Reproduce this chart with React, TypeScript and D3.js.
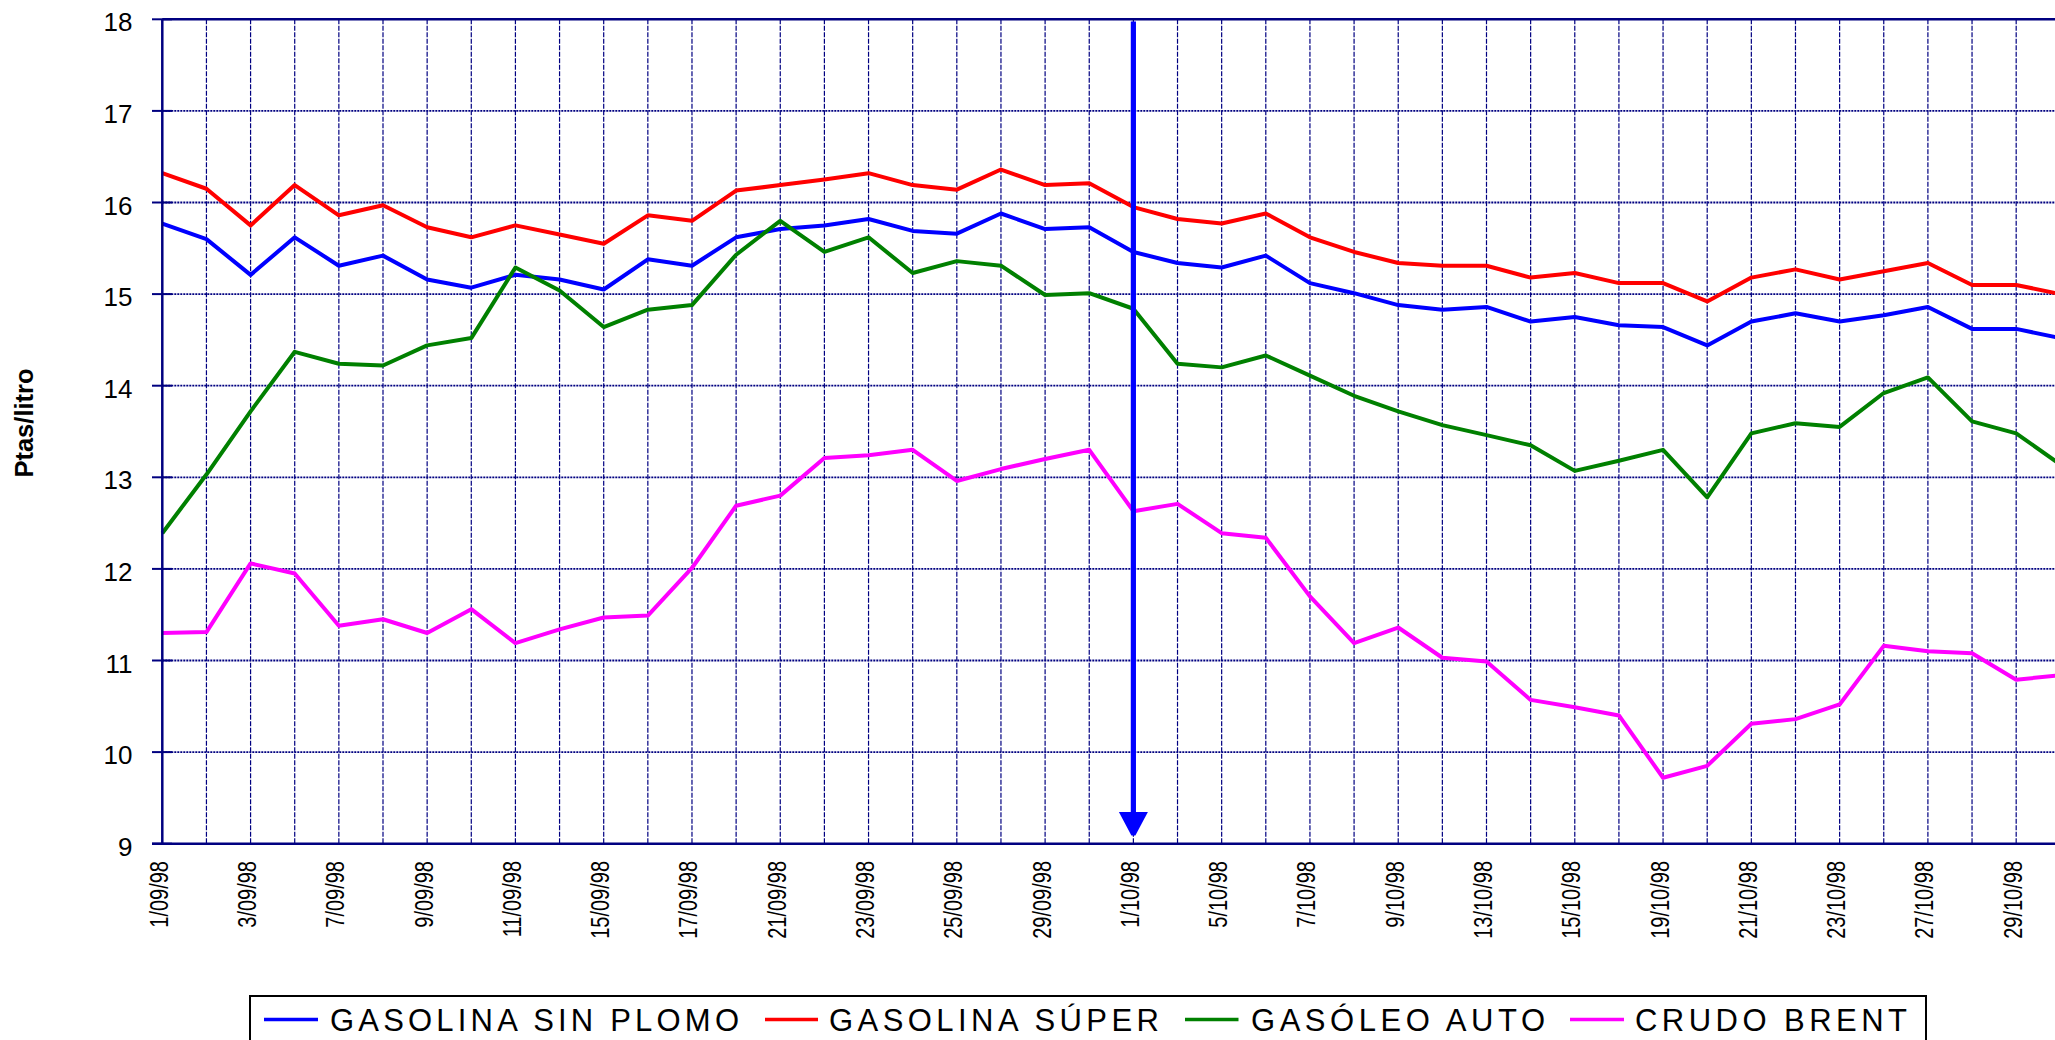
import React from "react";
import * as d3 from "d3";

const dates = [
  "1/09/98","2/09/98","3/09/98","4/09/98","7/09/98","8/09/98","9/09/98","10/09/98","11/09/98","14/09/98",
  "15/09/98","16/09/98","17/09/98","18/09/98","21/09/98","22/09/98","23/09/98","24/09/98","25/09/98","28/09/98",
  "29/09/98","30/09/98","1/10/98","2/10/98","5/10/98","6/10/98","7/10/98","8/10/98","9/10/98","12/10/98",
  "13/10/98","14/10/98","15/10/98","16/10/98","19/10/98","20/10/98","21/10/98","22/10/98","23/10/98","26/10/98",
  "27/10/98","28/10/98","29/10/98","30/10/98"
];

const sinPlomo = [
  15.77, 15.60, 15.21, 15.62, 15.31, 15.42, 15.16, 15.07, 15.21, 15.16, 15.05, 15.38, 15.31,
  15.62, 15.71, 15.75, 15.82, 15.69, 15.66, 15.88, 15.71, 15.73, 15.46, 15.34, 15.29, 15.42, 15.12,
  15.01, 14.88, 14.83, 14.86, 14.70, 14.75, 14.66, 14.64, 14.44, 14.70, 14.79, 14.70, 14.77, 14.86, 14.62, 14.62, 14.52
];

const super_ = [
  16.32, 16.15, 15.75, 16.19, 15.86, 15.97, 15.73, 15.62, 15.75, 15.65, 15.55, 15.86, 15.80,
  16.13, 16.19, 16.25, 16.32, 16.19, 16.14, 16.36, 16.19, 16.21, 15.95, 15.82, 15.77, 15.88, 15.62,
  15.46, 15.34, 15.31, 15.31, 15.18, 15.23, 15.12, 15.12, 14.92, 15.18, 15.27, 15.16, 15.25, 15.34, 15.10, 15.10, 15.00
];

const gasoleo = [
  12.39, 13.03, 13.72, 14.37, 14.24, 14.22, 14.44, 14.52, 15.29, 15.04, 14.64, 14.83, 14.88,
  15.43, 15.80, 15.46, 15.62, 15.23, 15.36, 15.31, 14.99, 15.01, 14.84, 14.24, 14.20, 14.33, 14.11,
  13.89, 13.72, 13.57, 13.46, 13.35, 13.07, 13.18, 13.30, 12.78, 13.48, 13.59, 13.55, 13.92, 14.09, 13.61, 13.48, 13.14
];

const brent = [
  11.30, 11.31, 12.06, 11.95, 11.38, 11.45, 11.30, 11.56, 11.19, 11.34, 11.47, 11.49, 12.01,
  12.69, 12.80, 13.21, 13.24, 13.30, 12.96, 13.09, 13.20, 13.30, 12.63, 12.71, 12.39, 12.34, 11.70,
  11.19, 11.36, 11.03, 10.99, 10.57, 10.49, 10.40, 9.72, 9.85, 10.31, 10.36, 10.52, 11.16, 11.10, 11.08, 10.79, 10.84
];

const seriesNames = ["GASOLINA SIN PLOMO", "GASOLINA SÚPER", "GASÓLEO AUTO", "CRUDO BRENT"];
const seriesColors = ["#0000FF", "#FF0000", "#008000", "#FF00FF"];
const yTicks = [9, 10, 11, 12, 13, 14, 15, 16, 17, 18];
const markerDate = "1/10/98";
const yTitle = "Ptas/litro";

const W = 2055;
const H = 1040;
const X0 = 162.3;
const STEP = 44.14;
const Y_TOP = 19.3;
const Y_BOT = 843.7;
const NAVY = "#000080";
const FONT = "'Liberation Sans', Arial, sans-serif";

export default function App() {
  const n = dates.length;
  const x = d3.scaleLinear().domain([0, n - 1]).range([X0, X0 + (n - 1) * STEP]);
  const y = d3.scaleLinear().domain([9, 18]).range([Y_BOT, Y_TOP]);
  const line = d3
    .line<number>()
    .x((_, i) => x(i))
    .y((v) => y(v));
  const allSeries = [sinPlomo, super_, gasoleo, brent];
  const xRight = W + 20;
  const mi = dates.indexOf(markerDate);
  const mx = x(mi);

  const legendItems = [
    { lx1: 264, lx2: 318, tx: 330, tw: 409 },
    { lx1: 765, lx2: 818, tx: 829, tw: 330 },
    { lx1: 1185, lx2: 1238.5, tx: 1251, tw: 294 },
    { lx1: 1570, lx2: 1624, tx: 1635, tw: 272 },
  ];

  return (
    <svg
      width={W}
      height={H}
      style={{ position: "absolute", left: 0, top: 0, display: "block", background: "#fff" }}
      fontFamily={FONT}
    >
      <rect x={0} y={0} width={W} height={H} fill="#fff" />
      {dates.map((d, i) =>
        i === 0 ? null : (
          <line
            key={"vg" + i}
            x1={x(i)}
            x2={x(i)}
            y1={Y_TOP}
            y2={Y_BOT}
            stroke={NAVY}
            strokeWidth={1.2}
            strokeDasharray="5 1.5"
          />
        )
      )}
      {yTicks
        .filter((t) => t !== 9 && t !== 18)
        .map((t) => (
          <line
            key={"hg" + t}
            x1={X0}
            x2={xRight}
            y1={y(t)}
            y2={y(t)}
            stroke={NAVY}
            strokeWidth={1.8}
            strokeDasharray="2 1"
          />
        ))}
      <line x1={X0} x2={xRight} y1={y(18)} y2={y(18)} stroke={NAVY} strokeWidth={2.5} />
      {yTicks.map((t) => (
        <line key={"yt" + t} x1={152} x2={172} y1={y(t)} y2={y(t)} stroke={NAVY} strokeWidth={2} />
      ))}
      {yTicks.map((t) => (
        <text
          key={"yl" + t}
          x={132.5}
          y={y(t) + 12}
          textAnchor="end"
          fontSize={26}
          fill="#000"
        >
          {t}
        </text>
      ))}
      <text
        transform={`translate(33,423) rotate(-90)`}
        textAnchor="middle"
        fontSize={25.5}
        fontWeight="bold"
        fill="#000"
      >
        {yTitle}
      </text>
      {allSeries.map((s, k) => (
        <path
          key={"s" + k}
          d={line(s) || ""}
          fill="none"
          stroke={seriesColors[k]}
          strokeWidth={4}
          strokeLinejoin="round"
        />
      ))}
      <line x1={X0} x2={X0} y1={Y_TOP} y2={Y_BOT} stroke={NAVY} strokeWidth={2.5} />
      <line x1={152} x2={xRight} y1={Y_BOT} y2={Y_BOT} stroke={NAVY} strokeWidth={2.6} />
      {dates.map((d, i) =>
        i % 2 === 0 ? (
          <text
            key={"xl" + i}
            transform={`translate(${x(i) + 5.5},861) rotate(-90) scale(0.8,1)`}
            textAnchor="end"
            fontSize={25}
            fill="#000"
          >
            {d}
          </text>
        ) : null
      )}
      <line x1={mx} x2={mx} y1={21.5} y2={815} stroke="#0000FF" strokeWidth={5.2} />
      <polygon
        points={`${mx - 14.5},812 ${mx + 14.5},812 ${mx + 2},835.5 ${mx - 2},835.5`}
        fill="#0000FF"
      />
      <rect x={250} y={996} width={1676} height={70} fill="#fff" stroke="#000" strokeWidth={2} />
      {legendItems.map((it, k) => (
        <g key={"lg" + k}>
          <line
            x1={it.lx1}
            x2={it.lx2}
            y1={1019.5}
            y2={1019.5}
            stroke={seriesColors[k]}
            strokeWidth={3.6}
          />
          <text
            x={it.tx}
            y={1031}
            fontSize={31}
            fill="#000"
            textLength={it.tw}
            lengthAdjust="spacing"
          >
            {seriesNames[k]}
          </text>
        </g>
      ))}
    </svg>
  );
}
